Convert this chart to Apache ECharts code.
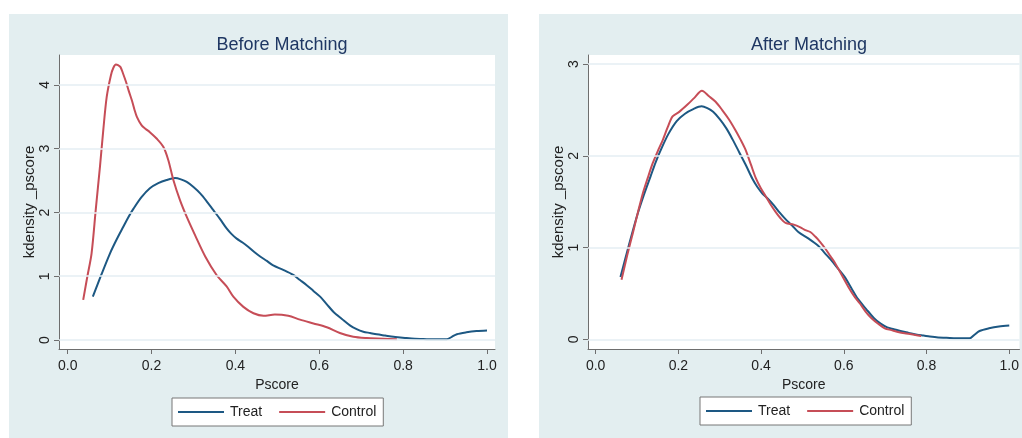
<!DOCTYPE html>
<html>
<head>
<meta charset="utf-8">
<script src="https://cdn.jsdelivr.net/npm/echarts@6/dist/echarts.min.js"></script>
<style>
html,body{margin:0;padding:0;background:#fff;}
#chart{width:1022px;height:438px;}
</style>
</head>
<body>
<div id="chart"></div>
<script>
// ---- data ----
var titles = ['Before Matching', 'After Matching'];
var seriesNames = ['Treat', 'Control'];
var xTickValues = [0, 0.2, 0.4, 0.6, 0.8, 1.0];
var yTicksBefore = [0, 1, 2, 3, 4];
var yTicksAfter = [0, 1, 2, 3];

// Treat kernel density (same sample before and after matching)
var treatX = [0.060, 0.080, 0.101, 0.117, 0.133, 0.145, 0.157, 0.176, 0.196, 0.216, 0.236, 0.256, 0.270, 0.284, 0.300, 0.316, 0.331, 0.347, 0.363, 0.379, 0.391, 0.403, 0.417, 0.431, 0.445, 0.459, 0.475, 0.490, 0.514, 0.538, 0.554, 0.570, 0.586, 0.602, 0.618, 0.634, 0.654, 0.673, 0.689, 0.705, 0.721, 0.737, 0.757, 0.777, 0.793, 0.808, 0.828, 0.848, 0.872, 0.904, 0.916, 0.928, 0.951, 0.975, 1.000];
var treatY = [0.68, 1.02, 1.36, 1.58, 1.78, 1.93, 2.06, 2.24, 2.38, 2.46, 2.51, 2.54, 2.52, 2.48, 2.40, 2.30, 2.18, 2.04, 1.90, 1.75, 1.66, 1.59, 1.53, 1.46, 1.38, 1.31, 1.24, 1.17, 1.10, 1.02, 0.94, 0.86, 0.77, 0.68, 0.56, 0.44, 0.33, 0.23, 0.17, 0.13, 0.11, 0.09, 0.07, 0.05, 0.04, 0.03, 0.02, 0.016, 0.01, 0.01, 0.05, 0.09, 0.12, 0.14, 0.15];

// Control kernel density before matching
var controlBeforeX = [0.037, 0.047, 0.057, 0.067, 0.077, 0.085, 0.093, 0.103, 0.109, 0.115, 0.120, 0.126, 0.132, 0.139, 0.146, 0.153, 0.159, 0.165, 0.176, 0.186, 0.196, 0.212, 0.228, 0.240, 0.252, 0.268, 0.284, 0.304, 0.328, 0.355, 0.379, 0.395, 0.419, 0.443, 0.467, 0.494, 0.526, 0.554, 0.586, 0.618, 0.649, 0.681, 0.713, 0.753, 0.785];
var controlBeforeY = [0.63, 1.00, 1.36, 2.05, 2.72, 3.30, 3.81, 4.15, 4.27, 4.32, 4.31, 4.28, 4.18, 4.05, 3.90, 3.76, 3.62, 3.50, 3.37, 3.31, 3.26, 3.16, 3.03, 2.82, 2.51, 2.19, 1.93, 1.64, 1.31, 1.02, 0.84, 0.68, 0.52, 0.42, 0.38, 0.40, 0.38, 0.32, 0.26, 0.20, 0.11, 0.05, 0.03, 0.02, 0.01];

// Control kernel density after matching
var controlAfterX = [0.0625, 0.076, 0.090, 0.102, 0.114, 0.126, 0.138, 0.150, 0.162, 0.174, 0.186, 0.202, 0.222, 0.238, 0.257, 0.274, 0.290, 0.306, 0.322, 0.338, 0.350, 0.362, 0.375, 0.387, 0.399, 0.411, 0.423, 0.435, 0.447, 0.459, 0.479, 0.495, 0.507, 0.519, 0.531, 0.543, 0.555, 0.567, 0.579, 0.595, 0.611, 0.625, 0.639, 0.653, 0.667, 0.683, 0.699, 0.715, 0.731, 0.747, 0.763, 0.787];
var controlAfterY = [0.65, 0.91, 1.16, 1.38, 1.59, 1.76, 1.92, 2.05, 2.17, 2.31, 2.43, 2.48, 2.56, 2.63, 2.71, 2.65, 2.59, 2.50, 2.40, 2.28, 2.18, 2.07, 1.91, 1.76, 1.65, 1.56, 1.47, 1.39, 1.32, 1.27, 1.25, 1.22, 1.19, 1.17, 1.12, 1.06, 0.99, 0.91, 0.83, 0.70, 0.57, 0.47, 0.39, 0.30, 0.23, 0.17, 0.12, 0.10, 0.08, 0.065, 0.055, 0.036];

// ---- build ----
function pairs(xs, ys) {
  var out = [];
  for (var i = 0; i < xs.length; i++) out.push([xs[i], ys[i]]);
  return out;
}

var BLUE = '#1d5883';
var RED = '#c64d57';
var PANEL = '#e3eef0';
var GRIDLINE = '#e4eef3';
var AXIS = '#6e6e6e';
var TITLE = '#1f3763';
var FONT = "'Liberation Sans', Arial, Helvetica, sans-serif";

function xAxisCfg(gridIndex, min, max) {
  return {
    type: 'value', gridIndex: gridIndex, min: min, max: max,
    name: 'Pscore', nameLocation: 'middle', nameGap: 25,
    nameTextStyle: {color: '#222', fontSize: 14, fontFamily: FONT},
    axisLine: {show: true, onZero: false, lineStyle: {color: AXIS, width: 1}},
    axisTick: {show: true, length: 5, customValues: xTickValues, lineStyle: {color: AXIS}},
    axisLabel: {customValues: xTickValues, color: '#222', fontSize: 14, fontFamily: FONT, margin: 10,
      formatter: function (v) { return v.toFixed(1); }},
    splitLine: {show: false}
  };
}
function yAxisCfg(gridIndex, min, max, ticks) {
  return {
    type: 'value', gridIndex: gridIndex, min: min, max: max,
    name: 'kdensity _pscore', nameLocation: 'middle', nameGap: 21, nameRotate: 90,
    nameTextStyle: {color: '#222', fontSize: 15, fontFamily: FONT},
    axisLine: {show: true, onZero: false, lineStyle: {color: AXIS, width: 1}},
    axisTick: {show: true, length: 5, customValues: ticks, lineStyle: {color: AXIS}},
    axisLabel: {customValues: ticks, rotate: 90, color: '#222', fontSize: 14, fontFamily: FONT, margin: 7},
    splitLine: {show: false}
  };
}
function gridLines(ticks) {
  return {
    silent: true, symbol: 'none', label: {show: false},
    lineStyle: {color: GRIDLINE, width: 1.5, type: 'solid'},
    data: ticks.map(function (t) { return {yAxis: t}; })
  };
}
function lineSeries(name, data, idx, color, extra) {
  var s = {
    name: name, type: 'line', xAxisIndex: idx, yAxisIndex: idx,
    data: data, showSymbol: false, symbol: 'none', smooth: 0.3,
    lineStyle: {color: color, width: 2}, itemStyle: {color: color}, z: 3
  };
  if (extra) s.markLine = extra;
  return s;
}
function legendCfg(left, top) {
  return {
    left: left, top: top, orient: 'horizontal',
    data: seriesNames.map(function (n) { return {name: n, icon: 'rect'}; }),
    backgroundColor: '#fff', borderColor: '#777', borderWidth: 1, borderRadius: 0,
    padding: [6, 7, 6, 6], itemGap: 17, itemWidth: 46, itemHeight: 2,
    textStyle: {color: '#222', fontSize: 14, fontFamily: FONT, padding: [0, 0, 0, 1], lineHeight: 16},
    selectedMode: false
  };
}

var chart = echarts.init(document.getElementById('chart'), null, {renderer: 'canvas'});
chart.setOption({
  backgroundColor: '#fff',
  animation: false,
  graphic: [
    {type: 'rect', left: 9, top: 14, shape: {width: 499, height: 424}, style: {fill: PANEL}, z: -10, silent: true},
    {type: 'rect', left: 539, top: 14, shape: {width: 483, height: 424}, style: {fill: PANEL}, z: -10, silent: true}
  ],
  title: [
    {text: titles[0], left: 277, top: 31, textAlign: 'center',
      textStyle: {color: TITLE, fontSize: 18, fontWeight: 'normal', fontFamily: FONT}},
    {text: titles[1], left: 804, top: 31, textAlign: 'center',
      textStyle: {color: TITLE, fontSize: 18, fontWeight: 'normal', fontFamily: FONT}}
  ],
  legend: [legendCfg(172, 398), legendCfg(700, 397)],
  grid: [
    {left: 59, right: 527, top: 55, bottom: 89, show: true, backgroundColor: '#fff', borderWidth: 0},
    {left: 588, right: 0, top: 55, bottom: 89, show: true, backgroundColor: '#fff', borderWidth: 0}
  ],
  xAxis: [xAxisCfg(0, -0.0207, 1.019), xAxisCfg(1, -0.0185, 1.0247)],
  yAxis: [yAxisCfg(0, -0.141, 4.47, yTicksBefore), yAxisCfg(1, -0.106, 3.1, yTicksAfter)],
  series: [
    lineSeries(seriesNames[0], pairs(treatX, treatY), 0, BLUE, gridLines(yTicksBefore)),
    lineSeries(seriesNames[1], pairs(controlBeforeX, controlBeforeY), 0, RED),
    lineSeries(seriesNames[0], pairs(treatX, treatY), 1, BLUE, gridLines(yTicksAfter)),
    lineSeries(seriesNames[1], pairs(controlAfterX, controlAfterY), 1, RED)
  ]
});
</script>
</body>
</html>
